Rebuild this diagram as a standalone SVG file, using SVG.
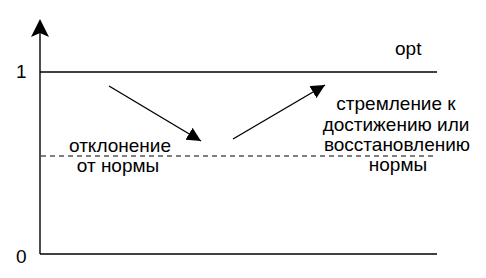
<svg xmlns="http://www.w3.org/2000/svg" width="486" height="278" viewBox="0 0 486 278">
<style>
.ln{stroke:#000;stroke-width:1.4;fill:none}
.dash{stroke:#000;stroke-width:1.2;stroke-dasharray:5 4;fill:none}
text{font-family:"Liberation Sans",Arial,sans-serif;font-size:19px;fill:#000}
.c{text-anchor:middle}
</style>
<defs>
<marker id="ah" viewBox="0 0 10 10" refX="10" refY="5" markerWidth="14" markerHeight="14" markerUnits="userSpaceOnUse" orient="auto">
<path d="M0,0 L10,5 L0,10 Z" fill="#000"/>
</marker>
</defs>
<rect width="486" height="278" fill="#fff"/>
<g id="axes">
<line class="ln" x1="40" y1="254" x2="40" y2="24"/>
<path d="M40,19 L31,37 L40,33 L49,37 Z" fill="#000"/>
<line class="ln" x1="40" y1="254" x2="437" y2="254"/>
<line class="ln" x1="40" y1="72" x2="437" y2="72"/>
<line class="dash" x1="41" y1="156" x2="437" y2="156"/>
</g>
<g id="axis-labels">
<text x="16" y="78">1</text>
<text x="16" y="263">0</text>
<text x="395" y="55">opt</text>
</g>
<g id="connectors">
<line class="ln" x1="109" y1="86" x2="201" y2="141" marker-end="url(#ah)"/>
<line class="ln" x1="233" y1="139" x2="325" y2="85" marker-end="url(#ah)"/>
</g>
<g id="deviation">
<text class="c" x="120" y="152">отклонение</text>
<text class="c" x="118" y="172">от нормы</text>
</g>
<g id="restoration">
<text class="c" x="396" y="110">стремление к</text>
<text class="c" x="396" y="131">достижению или</text>
<text class="c" x="397" y="151">восстановлению</text>
<text class="c" x="398" y="171">нормы</text>
</g>
</svg>
